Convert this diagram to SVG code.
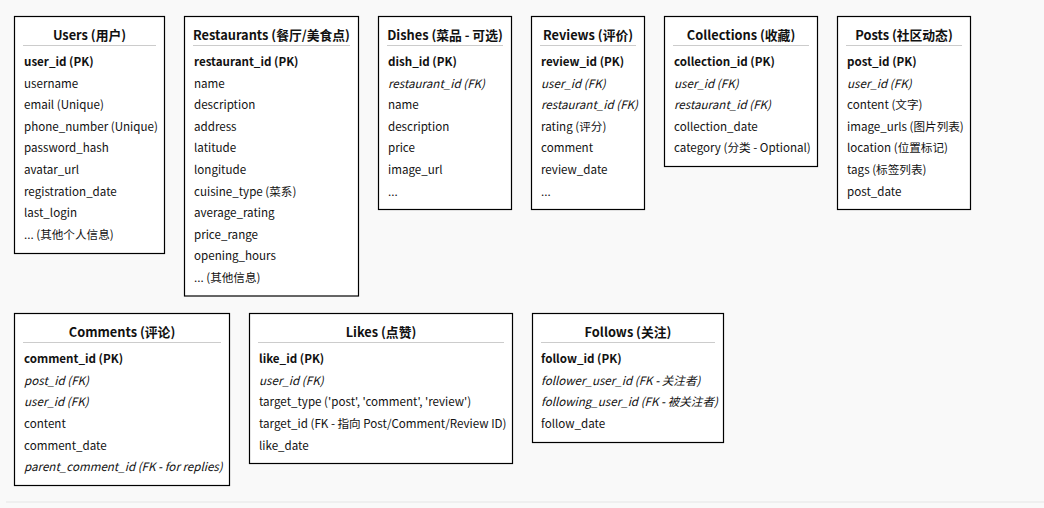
<svg xmlns="http://www.w3.org/2000/svg" width="1044" height="508" viewBox="0 0 1044 508">
<style>
.box{fill:#fff;stroke:#000;stroke-width:1.2}
.sep{stroke:#ccc;stroke-width:1}
text{font-family:"Noto Sans CJK SC","Noto Sans",sans-serif;font-size:11.6px;fill:#111}
.t{font-size:12.8px;font-weight:bold;text-anchor:middle}
.pk{font-weight:bold}
.fk{font-style:italic}
</style>
<rect x="0" y="0" width="1044" height="508" fill="#f9f9f9"/>
<line x1="6" y1="502" x2="1044" y2="502" stroke="#ebebeb" stroke-width="1.5"/>
<g id="connectors"></g>
<g id="users">
<rect class="box" x="14.5" y="16.5" width="150" height="237"/>
<text class="t" x="89.5" y="40">Users (用户)</text>
<line class="sep" x1="23" y1="45.5" x2="156" y2="45.5"/>
<text class="pk" x="24" y="66">user_id (PK)</text>
<text x="24" y="87.6">username</text>
<text x="24" y="109.2">email (Unique)</text>
<text x="24" y="130.8">phone_number (Unique)</text>
<text x="24" y="152.4">password_hash</text>
<text x="24" y="174">avatar_url</text>
<text x="24" y="195.6">registration_date</text>
<text x="24" y="217.2">last_login</text>
<text x="24" y="238.8">... (其他个人信息)</text>
</g>
<g id="restaurants">
<rect class="box" x="184.5" y="16.5" width="174" height="279.5"/>
<text class="t" x="271.5" y="40">Restaurants (餐厅/美食点)</text>
<line class="sep" x1="193" y1="45.5" x2="350" y2="45.5"/>
<text class="pk" x="194" y="66">restaurant_id (PK)</text>
<text x="194" y="87.6">name</text>
<text x="194" y="109.2">description</text>
<text x="194" y="130.8">address</text>
<text x="194" y="152.4">latitude</text>
<text x="194" y="174">longitude</text>
<text x="194" y="195.6">cuisine_type (菜系)</text>
<text x="194" y="217.2">average_rating</text>
<text x="194" y="238.8">price_range</text>
<text x="194" y="260.4">opening_hours</text>
<text x="194" y="282">... (其他信息)</text>
</g>
<g id="dishes">
<rect class="box" x="378.5" y="16.5" width="133" height="193"/>
<text class="t" x="445" y="40">Dishes (菜品 - 可选)</text>
<line class="sep" x1="387" y1="45.5" x2="503" y2="45.5"/>
<text class="pk" x="388" y="66">dish_id (PK)</text>
<text class="fk" x="388" y="87.6">restaurant_id (FK)</text>
<text x="388" y="109.2">name</text>
<text x="388" y="130.8">description</text>
<text x="388" y="152.4">price</text>
<text x="388" y="174">image_url</text>
<text x="388" y="195.6">...</text>
</g>
<g id="reviews">
<rect class="box" x="531.5" y="16.5" width="113" height="193"/>
<text class="t" x="588" y="40">Reviews (评价)</text>
<line class="sep" x1="540" y1="45.5" x2="636" y2="45.5"/>
<text class="pk" x="541" y="66">review_id (PK)</text>
<text class="fk" x="541" y="87.6">user_id (FK)</text>
<text class="fk" x="541" y="109.2">restaurant_id (FK)</text>
<text x="541" y="130.8">rating (评分)</text>
<text x="541" y="152.4">comment</text>
<text x="541" y="174">review_date</text>
<text x="541" y="195.6">...</text>
</g>
<g id="collections">
<rect class="box" x="664.5" y="16.5" width="153" height="150"/>
<text class="t" x="741" y="40">Collections (收藏)</text>
<line class="sep" x1="673" y1="45.5" x2="809" y2="45.5"/>
<text class="pk" x="674" y="66">collection_id (PK)</text>
<text class="fk" x="674" y="87.6">user_id (FK)</text>
<text class="fk" x="674" y="109.2">restaurant_id (FK)</text>
<text x="674" y="130.8">collection_date</text>
<text x="674" y="152.4">category (分类 - Optional)</text>
</g>
<g id="posts">
<rect class="box" x="837.5" y="16.5" width="133" height="193"/>
<text class="t" x="904" y="40">Posts (社区动态)</text>
<line class="sep" x1="846" y1="45.5" x2="962" y2="45.5"/>
<text class="pk" x="847" y="66">post_id (PK)</text>
<text class="fk" x="847" y="87.6">user_id (FK)</text>
<text x="847" y="109.2">content (文字)</text>
<text x="847" y="130.8">image_urls (图片列表)</text>
<text x="847" y="152.4">location (位置标记)</text>
<text x="847" y="174">tags (标签列表)</text>
<text x="847" y="195.6">post_date</text>
</g>
<g id="comments">
<rect class="box" x="14.5" y="313.5" width="215" height="172"/>
<text class="t" x="122" y="337">Comments (评论)</text>
<line class="sep" x1="23" y1="342.5" x2="221" y2="342.5"/>
<text class="pk" x="24" y="363.2">comment_id (PK)</text>
<text class="fk" x="24" y="384.8">post_id (FK)</text>
<text class="fk" x="24" y="406.4">user_id (FK)</text>
<text x="24" y="428">content</text>
<text x="24" y="449.6">comment_date</text>
<text class="fk" x="24" y="471.2">parent_comment_id (FK - for replies)</text>
</g>
<g id="likes">
<rect class="box" x="249.5" y="313.5" width="263" height="150"/>
<text class="t" x="381" y="337">Likes (点赞)</text>
<line class="sep" x1="258" y1="342.5" x2="504" y2="342.5"/>
<text class="pk" x="259" y="363.2">like_id (PK)</text>
<text class="fk" x="259" y="384.8">user_id (FK)</text>
<text x="259" y="406.4">target_type ('post', 'comment', 'review')</text>
<text x="259" y="428">target_id (FK - 指向 Post/Comment/Review ID)</text>
<text x="259" y="449.6">like_date</text>
</g>
<g id="follows">
<rect class="box" x="532.5" y="313.5" width="191" height="129"/>
<text class="t" x="628" y="337">Follows (关注)</text>
<line class="sep" x1="541" y1="342.5" x2="715" y2="342.5"/>
<text class="pk" x="541" y="363.2">follow_id (PK)</text>
<text class="fk" x="541" y="384.8">follower_user_id (FK - 关注者)</text>
<text class="fk" x="541" y="406.4">following_user_id (FK - 被关注者)</text>
<text x="541" y="428">follow_date</text>
</g>
</svg>
